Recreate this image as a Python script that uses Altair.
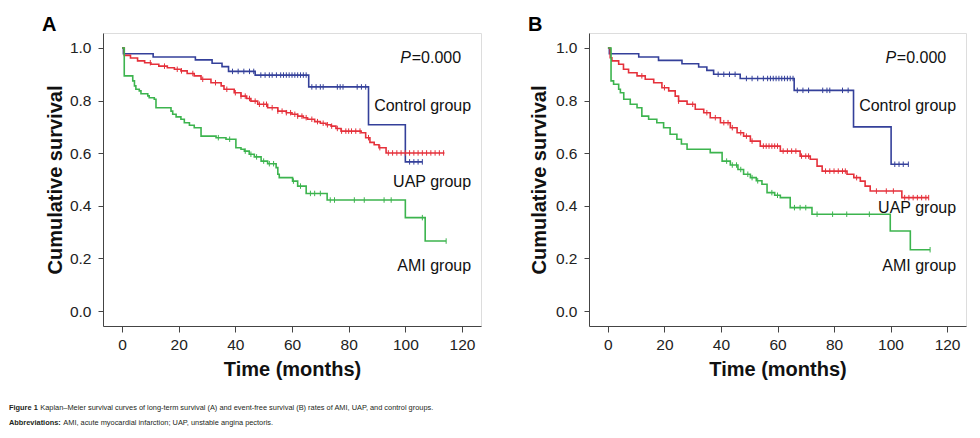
import altair as alt
import pandas as pd
import numpy as np

# ---------------- data ----------------
GROUPS = ["Control group", "UAP group", "AMI group"]
COLORS = ["#34409a", "#e5313b", "#3cb44e"]

# Panel A: long-term survival
A_ctrl_t = [0, 0.5, 11, 25.9, 31.8, 35.3, 37.6, 47, 65.9, 87, 100, 106]
A_ctrl_s = [1.0, 0.978, 0.966, 0.955, 0.942, 0.929, 0.911, 0.897, 0.852, 0.708, 0.567, 0.567]
A_ctrl_c = [39, 41, 43, 45, 46.5, 49, 50.5, 52, 53, 54.5, 56, 57, 58, 59, 60, 61, 62, 63, 64, 65,
            67, 68.5, 70, 71, 76, 77, 78, 83, 84.5, 86, 101.5, 103, 104.5, 106]

A_uap_t = [0, 0.8, 3, 5.5, 8, 10.2, 13, 16, 18.5, 20.8, 23, 25.5, 27.9, 31.4, 35, 36, 39.6, 42, 44,
           45.5, 47.9, 51.4, 55, 58, 60, 62, 64, 65.5, 68, 70, 72, 73.8, 75.5, 77.3, 84.4, 86, 87.5,
           89, 90.7, 93.2, 113.8]
A_uap_s = [1.0, 0.972, 0.962, 0.951, 0.944, 0.938, 0.931, 0.925, 0.919, 0.913, 0.903, 0.894, 0.881,
           0.868, 0.856, 0.843, 0.830, 0.817, 0.808, 0.798, 0.786, 0.773, 0.760, 0.754, 0.748, 0.741,
           0.735, 0.729, 0.720, 0.714, 0.708, 0.703, 0.694, 0.684, 0.678, 0.659, 0.641, 0.632, 0.621,
           0.601, 0.601]
A_uap_c = [10, 15, 19.5, 21, 25, 28.5, 33, 37, 40, 42, 43.5, 45, 47, 48.5, 50, 51, 53, 55, 56.5, 58,
           59.5, 61, 62, 63.5, 65, 67, 69, 71, 72.5, 74, 76, 77.5, 79, 80, 81, 82.5, 84, 87, 91, 94,
           95.5, 97, 98.5, 100, 101.5, 103, 104.5, 106, 107.5, 109, 110.5, 112, 113.5]

A_ami_t = [0, 0.8, 3.8, 4.4, 4.9, 6.1, 6.7, 9.1, 9.6, 11.4, 12, 17.3, 17.9, 19.1, 20.8, 22, 23.8,
           25.5, 27.9, 33.2, 36.7, 40.2, 42, 43.2, 44.9, 46.7, 49.1, 51.4, 54.4, 55, 55.5, 60.2, 62,
           65, 72.4, 100, 107, 114.4]
A_ami_s = [1.0, 0.894, 0.875, 0.856, 0.843, 0.837, 0.826, 0.818, 0.811, 0.805, 0.773, 0.760, 0.748,
           0.738, 0.729, 0.716, 0.706, 0.697, 0.665, 0.659, 0.653, 0.621, 0.615, 0.608, 0.596, 0.586,
           0.570, 0.560, 0.545, 0.520, 0.507, 0.494, 0.475, 0.447, 0.422, 0.355, 0.266, 0.266]
A_ami_c = [34, 38, 43.5, 45.5, 47.5, 50, 52, 53.5, 60.5, 63, 66.5, 68, 70, 73.5, 75, 82, 85.5, 92.5,
           95, 106, 114.4]

# Panel B: event-free survival
B_ctrl_t = [0, 0.5, 10.9, 17.9, 26.2, 32.1, 35, 37.4, 46.8, 65.9, 86.9, 100.2, 106.3]
B_ctrl_s = [1.0, 0.978, 0.966, 0.953, 0.940, 0.928, 0.915, 0.900, 0.884, 0.839, 0.700, 0.558, 0.558]
B_ctrl_c = [39, 41, 43, 45, 49, 51, 53, 55, 56.5, 57.5, 58.5, 59.5, 60.5, 61.5, 62.5, 63.5, 64.5,
            65.5, 67, 69, 71, 76, 77.5, 78.5, 83, 85, 101.5, 103, 104.5, 106.3]

B_uap_t = [0, 0.8, 1.4, 3.8, 5.5, 7.3, 10.3, 13.2, 16.2, 19.1, 21.5, 23.8, 25, 28, 30.9, 33.9, 36.2,
           39.8, 43.3, 45.7, 48, 50.4, 53.9, 61, 68, 71.6, 74, 75.8, 84.6, 87, 89.3, 91, 92.8, 104,
           113.5]
B_uap_s = [1.0, 0.963, 0.951, 0.938, 0.919, 0.906, 0.894, 0.881, 0.868, 0.849, 0.837, 0.817, 0.798,
           0.786, 0.767, 0.754, 0.735, 0.716, 0.697, 0.678, 0.665, 0.646, 0.627, 0.608, 0.589, 0.577,
           0.551, 0.532, 0.520, 0.507, 0.494, 0.475, 0.456, 0.431, 0.431]
B_uap_c = [12, 20, 25, 30, 35, 38, 41, 42.5, 44, 47, 49, 51, 55, 56, 57, 58, 59, 60, 62, 63.5, 65,
           66.5, 68.5, 70, 71, 77, 78.5, 80, 81.5, 83, 84, 88, 95, 98.5, 101, 105, 106.5, 108, 109.5,
           111, 112.5, 113.5]

B_ami_t = [0, 1.1, 2, 3.8, 4.4, 5.6, 7.9, 10.3, 12, 14.4, 17.3, 19.7, 22, 24.4, 26, 28, 36.2, 40.4,
           43.3, 46, 48, 50.4, 52.5, 54.5, 56.3, 59, 61, 64.5, 72.2, 99.9, 107, 114]
B_ami_s = [1.0, 0.875, 0.862, 0.843, 0.830, 0.805, 0.786, 0.773, 0.741, 0.729, 0.716, 0.697, 0.672,
           0.653, 0.635, 0.615, 0.602, 0.570, 0.555, 0.538, 0.520, 0.507, 0.495, 0.482, 0.450, 0.440,
           0.431, 0.393, 0.368, 0.304, 0.233, 0.233]
B_ami_c = [42, 44, 45.5, 47, 49.5, 51, 53, 58, 60, 66, 68, 70, 74, 79.5, 84.5, 92.5, 114]

# annotation labels: (text, x in months, y in survival)
A_labels = [("Control group", 123.2, 0.760), ("UAP group", 123.2, 0.473), ("AMI group", 123.2, 0.152)]
B_labels = [("Control group", 123.2, 0.760), ("UAP group", 123.2, 0.374), ("AMI group", 123.2, 0.152)]
P_text = "=0.000"

X_TICKS = [0, 20, 40, 60, 80, 100, 120]
Y_TICKS = [0.0, 0.2, 0.4, 0.6, 0.8, 1.0]

CAPTION_1_BOLD = "Figure 1"
CAPTION_1 = ("Kaplan\u2013Meier survival curves of long-term survival (A) and event-free survival (B) "
             "rates of AMI, UAP, and control groups.")
CAPTION_2_BOLD = "Abbreviations:"
CAPTION_2 = "AMI, acute myocardial infarction; UAP, unstable angina pectoris."

FONT = "Liberation Sans, Arial, sans-serif"


def curves_df(curves):
    rows = []
    for g, t, s in curves:
        for ti, si in zip(t, s):
            rows.append({"g": g, "t": ti, "s": si})
    return pd.DataFrame(rows)


def censor_df(curves, censors):
    rows = []
    for (g, t, s), c in zip(curves, censors):
        t_arr = np.array(t)
        for ci in c:
            idx = np.searchsorted(t_arr, ci, side="right") - 1
            rows.append({"g": g, "t": ci, "s": s[idx]})
    return pd.DataFrame(rows)


xs = alt.Scale(domain=[-6.7, 126.7], nice=False, zero=False)
ys = alt.Scale(domain=[-0.057, 1.057], nice=False, zero=False)
cs = alt.Scale(domain=GROUPS, range=COLORS)


def panel(letter, curves, censors, labels, width, ytitle_x, caption=False):
    df = curves_df(curves)
    cdf = censor_df(curves, censors)
    ldf = pd.DataFrame(labels, columns=["label", "x", "y"])

    x_axis = alt.Axis(values=X_TICKS, title="Time (months)", grid=False,
                      labelFontSize=15.5, labelFont=FONT, labelColor="#222", labelPadding=5,
                      tickSize=6, tickColor="#444", domainColor="#444",
                      titleFont=FONT, titleFontSize=20, titleFontWeight="bold", titleColor="#111",
                      titleX=width / 2, titleY=49, titleBaseline="alphabetic", titleAlign="center")
    y_axis = alt.Axis(values=Y_TICKS, format=".1f", title="Cumulative survival", grid=False,
                      labelFontSize=15.5, labelFont=FONT, labelColor="#222", labelPadding=7,
                      tickSize=5, tickColor="#444", domainColor="#444",
                      titleFont=FONT, titleFontSize=20, titleFontWeight="bold", titleColor="#111",
                      titleX=ytitle_x, titleY=146.5, titleBaseline="alphabetic", titleAlign="center",
                      titleAngle=270)

    lines = alt.Chart(df).mark_line(interpolate="step-after", strokeWidth=1.6).encode(
        x=alt.X("t:Q", scale=xs, axis=x_axis),
        y=alt.Y("s:Q", scale=ys, axis=y_axis),
        color=alt.Color("g:N", scale=cs, legend=None),
    )
    ticks = alt.Chart(cdf).mark_point(shape="M0,-1L0,1", size=30, strokeWidth=1,
                                      filled=False, opacity=1).encode(
        x=alt.X("t:Q", scale=xs), y=alt.Y("s:Q", scale=ys),
        color=alt.Color("g:N", scale=cs, legend=None),
    )
    texts = alt.Chart(ldf).mark_text(align="right", baseline="alphabetic", fontSize=16,
                                     font=FONT, color="#111").encode(
        x=alt.X("x:Q", scale=xs), y=alt.Y("y:Q", scale=ys), text="label:N")
    pval = alt.Chart(pd.DataFrame({"x": [119.7], "y": [0.943], "t": [P_text]})).mark_text(
        align="right", baseline="alphabetic", fontSize=16, font=FONT, color="#111").encode(
        x=alt.X("x:Q", scale=xs), y=alt.Y("y:Q", scale=ys), text="t:N")
    pital = alt.Chart(pd.DataFrame({"x": [98.2], "y": [0.943], "t": ["P"]})).mark_text(
        align="left", baseline="alphabetic", fontSize=16, font=FONT, fontStyle="italic",
        color="#111").encode(
        x=alt.X("x:Q", scale=xs), y=alt.Y("y:Q", scale=ys), text="t:N")
    let = alt.Chart(pd.DataFrame({"t": [letter]})).mark_text(
        align="left", baseline="top", fontSize=20, fontWeight="bold", font=FONT,
        color="#000").encode(x=alt.value(-61), y=alt.value(-18), text="t:N")

    layers = [lines, ticks, texts, pval, pital, let]
    if caption:
        cap = pd.DataFrame({
            "t": [CAPTION_1_BOLD, CAPTION_1, CAPTION_2_BOLD, CAPTION_2],
            "w": ["bold", "normal", "bold", "normal"],
        })
        for i, (xv, yv) in enumerate([(-94, 376.5), (-62.7, 376.5), (-94, 391.5), (-39.7, 391.5)]):
            row = cap.iloc[[i]]
            layers.append(alt.Chart(row).mark_text(
                align="left", baseline="alphabetic", fontSize=7.4, font=FONT,
                fontWeight=row["w"].iloc[0], color="#231f20").encode(
                x=alt.value(xv), y=alt.value(yv), text="t:N"))

    return alt.layer(*layers).properties(width=width, height=293)


A_curves = [("Control group", A_ctrl_t, A_ctrl_s), ("UAP group", A_uap_t, A_uap_s),
            ("AMI group", A_ami_t, A_ami_s)]
B_curves = [("Control group", B_ctrl_t, B_ctrl_s), ("UAP group", B_uap_t, B_uap_s),
            ("AMI group", B_ami_t, B_ami_s)]

pA = panel("A", A_curves, [A_ctrl_c, A_uap_c, A_ami_c], A_labels, 378, -42, caption=True)
pB = panel("B", B_curves, [B_ctrl_c, B_uap_c, B_ami_c], B_labels, 377, -44)

chart = alt.hconcat(pA, pB, spacing=108, bounds="flush").properties(
    padding={"left": 0, "top": 6, "right": 5, "bottom": 5}
).configure_view(stroke="#a0a0a0", strokeWidth=2).configure(background="white")

chart.save("out.html", embed_options={"renderer": "svg", "actions": False})
